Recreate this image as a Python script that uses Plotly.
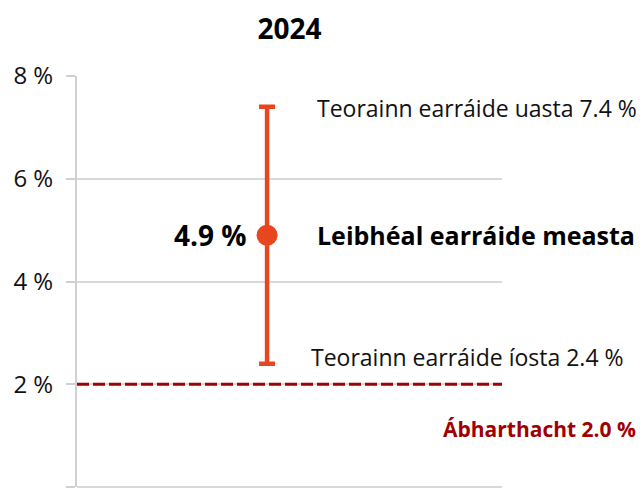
import plotly.graph_objects as go

# ---- data ----
categories = ["2024"]
estimate = [4.9]
upper_limit = [7.4]
lower_limit = [2.4]
materiality = [2.0]
tick_vals = [0, 2, 4, 6, 8]
tick_text = ["0 %", "2 %", "4 %", "6 %", "8 %"]

ORANGE = "#E8461E"
DARKRED = "#A00000"
FONT = "Open Sans"

fig = go.Figure()
fig.add_trace(go.Scatter(
    x=categories, y=estimate, mode="markers",
    marker=dict(size=21, color=ORANGE),
    error_y=dict(type="data", symmetric=False,
                 array=[u - e for u, e in zip(upper_limit, estimate)],
                 arrayminus=[e - l for e, l in zip(estimate, lower_limit)],
                 color=ORANGE, thickness=4.5, width=8),
    showlegend=False, hoverinfo="skip"))

# materiality dashed line
fig.add_shape(type="line", xref="paper", x0=0, x1=1, yref="y",
              y0=materiality[0], y1=materiality[0],
              line=dict(color=DARKRED, width=3, dash="12px,4px"))

cat_pos = 0  # index of the single category on the x axis
ann = []
ann.append(dict(x=cat_pos, y=upper_limit[0], xref="x", yref="y",
                text=f"Teorainn earráide uasta {upper_limit[0]:.1f} %",
                xanchor="left", yanchor="middle", xshift=48, yshift=-1, showarrow=False,
                font=dict(family=FONT, size=23, color="#111111")))
ann.append(dict(x=cat_pos, y=lower_limit[0], xref="x", yref="y",
                text=f"Teorainn earráide íosta {lower_limit[0]:.1f} %",
                xanchor="left", yanchor="middle", xshift=42, yshift=7, showarrow=False,
                font=dict(family=FONT, size=23, color="#111111")))
ann.append(dict(x=cat_pos, y=estimate[0], xref="x", yref="y",
                text="<b>Leibhéal earráide measta</b>",
                xanchor="left", yanchor="middle", xshift=48, showarrow=False,
                font=dict(family=FONT, size=25, color="#000000")))
ann.append(dict(x=cat_pos, y=estimate[0], xref="x", yref="y",
                text=f"<b>{estimate[0]:.1f} %</b>",
                xanchor="right", yanchor="middle", xshift=-18, showarrow=False,
                font=dict(family=FONT, size=28, color="#000000")))
ann.append(dict(x=1, y=materiality[0], xref="paper", yref="y",
                text=f"<b>Ábharthacht {materiality[0]:.1f} %</b>",
                xanchor="right", yanchor="middle", xshift=136, yshift=-45, showarrow=False,
                font=dict(family=FONT, size=21, color=DARKRED)))

# page body has an 8px default margin, so the figure is drawn 8px smaller/offset
fig.update_layout(
    width=636, height=488,
    margin=dict(l=69, r=142, t=68, b=9, autoexpand=False),
    paper_bgcolor="white", plot_bgcolor="white",
    title=dict(text="<b>2024</b>", x=0.5, xref="paper", xanchor="center",
               y=1 - 21 / 488, yref="container", yanchor="middle",
               font=dict(family=FONT, size=28, color="#000000")),
    annotations=ann,
    xaxis=dict(type="category", range=[-0.5, 0.618], visible=False,
               showgrid=False, zeroline=False, automargin=False),
    yaxis=dict(range=[0, 8], tickvals=tick_vals, ticktext=tick_text,
               automargin=False,
               showgrid=True, gridcolor="#D9D9D9", gridwidth=1.5,
               zeroline=True, zerolinecolor="#D9D9D9", zerolinewidth=1.5,
               showline=True, linecolor="#D0D0D0", linewidth=2,
               ticks="outside", ticklen=9, tickcolor="#D0D0D0", tickwidth=1.5,
               ticklabelstandoff=8,
               tickfont=dict(family=FONT, size=24, color="#111111")),
)

fig.write_html("out.html")
